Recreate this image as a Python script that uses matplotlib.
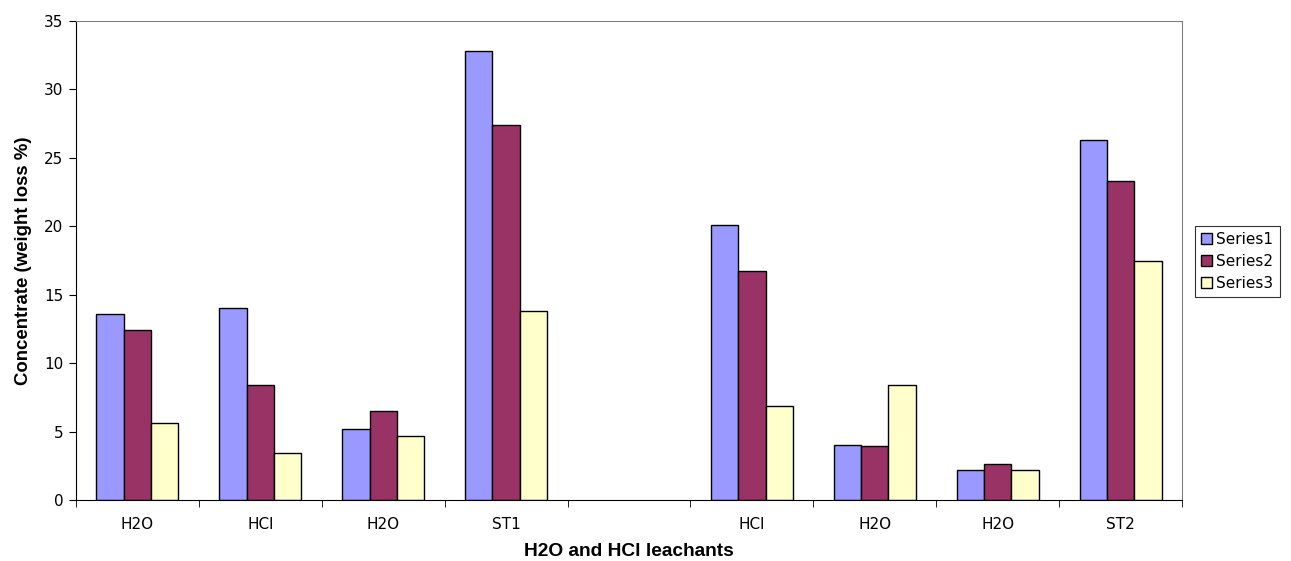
import matplotlib
matplotlib.use("Agg")
import matplotlib.pyplot as plt
import numpy as np

plt.rcParams['font.family'] = ['DejaVu Sans']

categories = ["H2O", "HCl", "H2O", "ST1", "", "HCl", "H2O", "H2O", "ST2"]
series1 = [13.6, 14.0, 5.2, 32.8, np.nan, 20.1, 4.0, 2.2, 26.3]
series2 = [12.4, 8.4, 6.5, 27.4, np.nan, 16.7, 3.95, 2.65, 23.3]
series3 = [5.6, 3.4, 4.7, 13.8, np.nan, 6.85, 8.4, 2.2, 17.5]
series_names = ["Series1", "Series2", "Series3"]
colors = ["#9999FF", "#993366", "#FFFFCC"]

fig = plt.figure(figsize=(12.91, 5.61), dpi=100)
ax = fig.add_axes([76/1291, 61/561, (1182-76)/1291, (500-21)/561])

x = np.arange(len(categories))
w = 1/4.5
for i, (vals, name, c) in enumerate(zip([series1, series2, series3], series_names, colors)):
    ax.bar(x + (i - 1) * w, vals, width=w, color=c, edgecolor="black", linewidth=1.0, label=name)

ax.set_xlim(-0.5, len(categories) - 0.5)
ax.set_ylim(0, 35)
ax.set_yticks(np.arange(0, 36, 5))
ax.set_xticks(x)
ax.set_xticklabels(categories, fontsize=11)
ax.set_xticks(np.arange(-0.5, len(categories), 1), minor=True)
ax.tick_params(axis='x', which='major', length=0, pad=12)
ax.tick_params(axis='x', which='minor', length=5, direction='out', color='black')
ax.tick_params(axis='y', length=5, direction='out', labelsize=11, pad=4)

for s in ['top', 'right']:
    ax.spines[s].set_color('#808080')
for s in ['left', 'bottom']:
    ax.spines[s].set_color('black')

ax.set_ylabel("Concentrate (weight loss %)", fontsize=13.4, fontweight='bold',
              family=['Liberation Sans', 'DejaVu Sans'], labelpad=9)
ax.set_xlabel("H2O and HCl leachants", fontsize=13.8, fontweight='bold',
              family=['Liberation Sans', 'DejaVu Sans'], labelpad=8)

leg = ax.legend(loc='upper left', bbox_to_anchor=((1195 - 76) / 1106, (500 - 226) / 479),
                bbox_transform=ax.transAxes,
                frameon=True, fancybox=False, edgecolor='black', fontsize=11,
                handlelength=0.7, handleheight=0.7, handletextpad=0.3, borderpad=0.4,
                labelspacing=0.45, borderaxespad=0)
leg.get_frame().set_linewidth(0.8)
for h in leg.legend_handles:
    h.set_edgecolor('black')
    h.set_linewidth(1.0)

fig.savefig("out.png", dpi=100)
